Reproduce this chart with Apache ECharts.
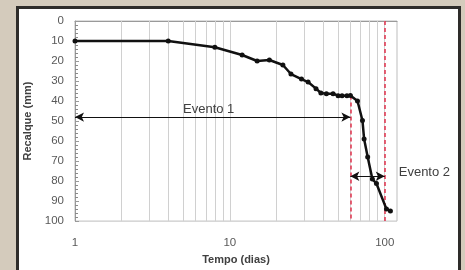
<!DOCTYPE html>
<html>
<head>
<meta charset="utf-8">
<script src="https://cdn.jsdelivr.net/npm/echarts@6/dist/echarts.min.js"></script>
<style>
  html, body { margin: 0; padding: 0; background: #d4cbbc; overflow: hidden; }
  .frame { position: absolute; left: 16px; top: 6px; width: 439px; height: 280px; border: 3px solid #2e2c2a; background: #fff; }
  #chart { position: absolute; left: 0; top: 0; width: 465px; height: 270px; }
</style>
</head>
<body>
<div class="frame"></div>
<div id="chart"></div>
<script>
// tempo (dias) e recalque (mm)
var tempo = [1, 4, 8, 12, 15, 18, 22, 24.8, 29, 32, 36, 38.7, 42, 46.4, 50, 53, 57, 60, 66.7, 71.8, 73.6, 77.6, 83.2, 88.4, 102.6, 108.8]
var recalque = [10, 10, 13.1, 17, 20, 19.5, 22, 26.5, 29, 30.5, 33.8, 36, 36.3, 36.3, 37.3, 37.4, 37.4, 37.2, 40, 49.7, 59, 68, 79, 81.2, 94, 95]
var gradeX = [2, 3, 4, 5, 6, 7, 8, 9, 10, 20, 30, 40, 50, 60, 70, 80, 90, 100]
var evento1 = [[1, 48], [60, 48]]
var evento2 = [[60, 77.6], [100, 77.6]]

var chart = echarts.init(document.getElementById('chart'))
var font = 'Liberation Sans'

chart.setOption({
  animation: false,
  textStyle: { fontFamily: font },
  grid: {
    left: 75, right: 68, top: 21, bottom: 45,
    show: true, borderColor: '#bdbdbd', borderWidth: 1
  },
  xAxis: {
    type: 'log',
    logBase: 10,
    min: 1,
    max: 120,
    name: 'Tempo (dias)',
    nameLocation: 'middle',
    nameGap: 30,
    nameTextStyle: { fontWeight: 'bold', fontSize: 11, color: '#404040' },
    axisLine: { lineStyle: { color: '#9a9a9a' } },
    axisTick: { show: false },
    splitLine: { show: false },
    axisLabel: {
      margin: 16,
      fontSize: 11.5,
      color: '#595959',
      formatter: function (v) {
        return [1, 10, 100].indexOf(Math.round(v)) >= 0 && Math.abs(v - Math.round(v)) < 1e-6 ? String(Math.round(v)) : ''
      }
    }
  },
  yAxis: {
    type: 'value',
    inverse: true,
    min: 0,
    max: 100,
    interval: 10,
    name: 'Recalque (mm)',
    nameLocation: 'middle',
    nameGap: 42,
    nameTextStyle: { fontWeight: 'bold', fontSize: 11, color: '#404040' },
    axisLine: { show: true, lineStyle: { color: '#9a9a9a' } },
    axisTick: { show: true, inside: true, length: 4, lineStyle: { color: '#9a9a9a' } },
    minorTick: { show: true, splitNumber: 5, length: 3, lineStyle: { color: '#8a8a8a' } },
    splitLine: { show: false },
    axisLabel: { fontSize: 11.5, color: '#595959', margin: 11 }
  },
  series: [
    {
      type: 'line',
      data: [],
      silent: true,
      markLine: {
        silent: true,
        symbol: 'none',
        label: { show: false },
        lineStyle: { color: '#d0d0d0', width: 1, type: 'solid' },
        data: gradeX.map(function (v) { return { xAxis: v } })
      }
    },
    {
      type: 'line',
      data: tempo.map(function (t, i) { return [t, recalque[i]] }),
      lineStyle: { color: '#111', width: 2.5 },
      itemStyle: { color: '#111' },
      symbol: 'circle',
      symbolSize: 5,
      z: 5
    },
    {
      type: 'line',
      data: [],
      markLine: {
        silent: true,
        symbol: 'none',
        label: { show: false },
        lineStyle: { color: '#e0314b', width: 1.5, type: [4, 3] },
        data: [
          [{ coord: [60, 37.2] }, { coord: [60, 100] }],
          [{ coord: [100, 0] }, { coord: [100, 100] }]
        ]
      }
    },
    {
      type: 'line',
      data: [],
      z: 6,
      markLine: {
        silent: true,
        symbol: ['arrow', 'arrow'],
        symbolSize: [7, 9],
        lineStyle: { color: '#111', width: 1, type: 'solid' },
        label: { color: '#404040', fontSize: 13 },
        data: [
          [
            { coord: evento1[0], label: { show: true, position: 'insideMiddleTop', formatter: 'Evento 1', distance: 1, offset: [-4, 0] } },
            { coord: evento1[1] }
          ],
          [
            { coord: evento2[0], label: { show: true, position: 'end', formatter: 'Evento 2', distance: 14, offset: [0, -4] } },
            { coord: evento2[1] }
          ]
        ]
      }
    }
  ]
})
</script>
</body>
</html>
